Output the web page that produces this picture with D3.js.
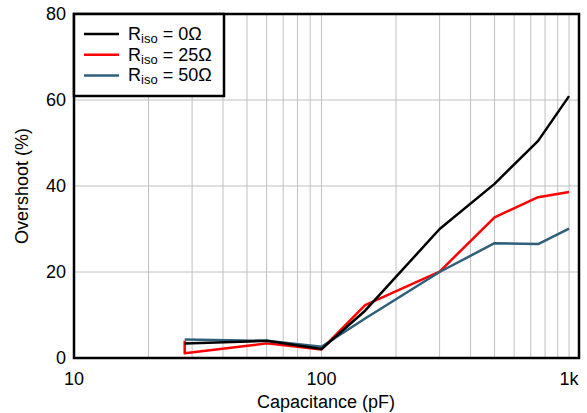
<!DOCTYPE html>
<html>
<head>
<meta charset="utf-8">
<script src="https://cdn.jsdelivr.net/npm/d3@7"></script>
<style>
  body { margin: 0; background: #fff; }
  svg { font-family: "Liberation Sans", Arial, sans-serif; }
</style>
</head>
<body>
<div class="canvas"></div>
<script>
// data
var capacitance = [28, 60, 100, 150, 300, 500, 750, 1000];
var capacitance25 = [28, 28, 60, 100, 150, 300, 500, 750, 1000];
var riso0  = [3.4, 4.0, 2.1, 11.0, 30.0, 40.5, 50.5, 60.9];
var riso25 = [4.0, 1.1, 3.4, 2.0, 12.3, 20.1, 32.7, 37.4, 38.6];
var riso50 = [4.3, 4.0, 2.6, 9.2, 20.0, 26.7, 26.5, 30.1];
var seriesNames = ["0Ω", "25Ω", "50Ω"];
var seriesColors = ["#000000", "#ff0000", "#2f5f7a"];
var xTicks = [10, 100, 1000];
var xTickLabels = ["10", "100", "1k"];
var yTicks = [0, 20, 40, 60, 80];

var width = 587, height = 413;
var padL = 74, padR = 579, padT = 14, padB = 358;

var svg = d3.select(".canvas").append("svg")
  .attr("width", width).attr("height", height);

var x = d3.scaleLog().domain([10, 1097]).range([padL, padR]);
var y = d3.scaleLinear().domain([0, 80]).range([padB, padT]);

// grid
var minor = [];
[10, 100].forEach(function(dec){
  for (var k = 2; k <= 10; k++) minor.push(dec * k);
});
svg.append("g").selectAll("line").data(minor).enter().append("line")
  .attr("x1", function(d){ return x(d); }).attr("x2", function(d){ return x(d); })
  .attr("y1", padT).attr("y2", padB)
  .attr("stroke", "#c0c0c0").attr("stroke-width", 1);
svg.append("g").selectAll("line").data(yTicks.slice(1, 4)).enter().append("line")
  .attr("x1", padL).attr("x2", padR)
  .attr("y1", function(d){ return y(d); }).attr("y2", function(d){ return y(d); })
  .attr("stroke", "#c0c0c0").attr("stroke-width", 1);

// lines
var allSeries = [
  d3.zip(capacitance, riso0),
  d3.zip(capacitance25, riso25),
  d3.zip(capacitance, riso50)
];
var line = d3.line()
  .x(function(d){ return x(d[0]); })
  .y(function(d){ return y(d[1]); });
// black on top
[1, 2, 0].forEach(function(s){
  svg.append("path").datum(allSeries[s])
    .attr("d", line)
    .attr("fill", "none")
    .attr("stroke", seriesColors[s])
    .attr("stroke-width", 2.5)
    .attr("stroke-linejoin", "round");
});

// frame
svg.append("rect")
  .attr("x", padL).attr("y", padT)
  .attr("width", padR - padL).attr("height", padB - padT)
  .attr("fill", "none").attr("stroke", "#000").attr("stroke-width", 2.5);

// tick labels
svg.append("g").selectAll("text").data(yTicks).enter().append("text")
  .text(function(d){ return d; })
  .attr("x", 66).attr("y", function(d){ return y(d) + 6; })
  .attr("text-anchor", "end")
  .attr("font-size", 18);
svg.append("g").selectAll("text").data(xTicks).enter().append("text")
  .text(function(d, i){ return xTickLabels[i]; })
  .attr("x", function(d){ return x(d); }).attr("y", 385)
  .attr("text-anchor", "middle")
  .attr("font-size", 18);

// axis titles
svg.append("text").text("Capacitance (pF)")
  .attr("x", 326).attr("y", 408)
  .attr("text-anchor", "middle").attr("font-size", 18);
svg.append("text").text("Overshoot (%)")
  .attr("transform", "translate(28," + ((padT + padB) / 2) + ") rotate(-90)")
  .attr("text-anchor", "middle").attr("font-size", 18);

// legend
var lg = svg.append("g");
lg.append("rect")
  .attr("x", padL).attr("y", padT)
  .attr("width", 150).attr("height", 82)
  .attr("fill", "#fff").attr("stroke", "#000").attr("stroke-width", 2.5);
seriesNames.forEach(function(name, i){
  var ly = 34 + i * 20.7;
  lg.append("line")
    .attr("x1", 84).attr("x2", 119).attr("y1", ly).attr("y2", ly)
    .attr("stroke", seriesColors[i]).attr("stroke-width", 2.5);
  var t = lg.append("text").attr("x", 128).attr("y", ly + 6).attr("font-size", 18);
  t.append("tspan").text("R");
  t.append("tspan").text("iso").attr("font-size", 13).attr("dy", 3);
  t.append("tspan").text(" = " + name).attr("dy", -3);
});
</script>
</body>
</html>
